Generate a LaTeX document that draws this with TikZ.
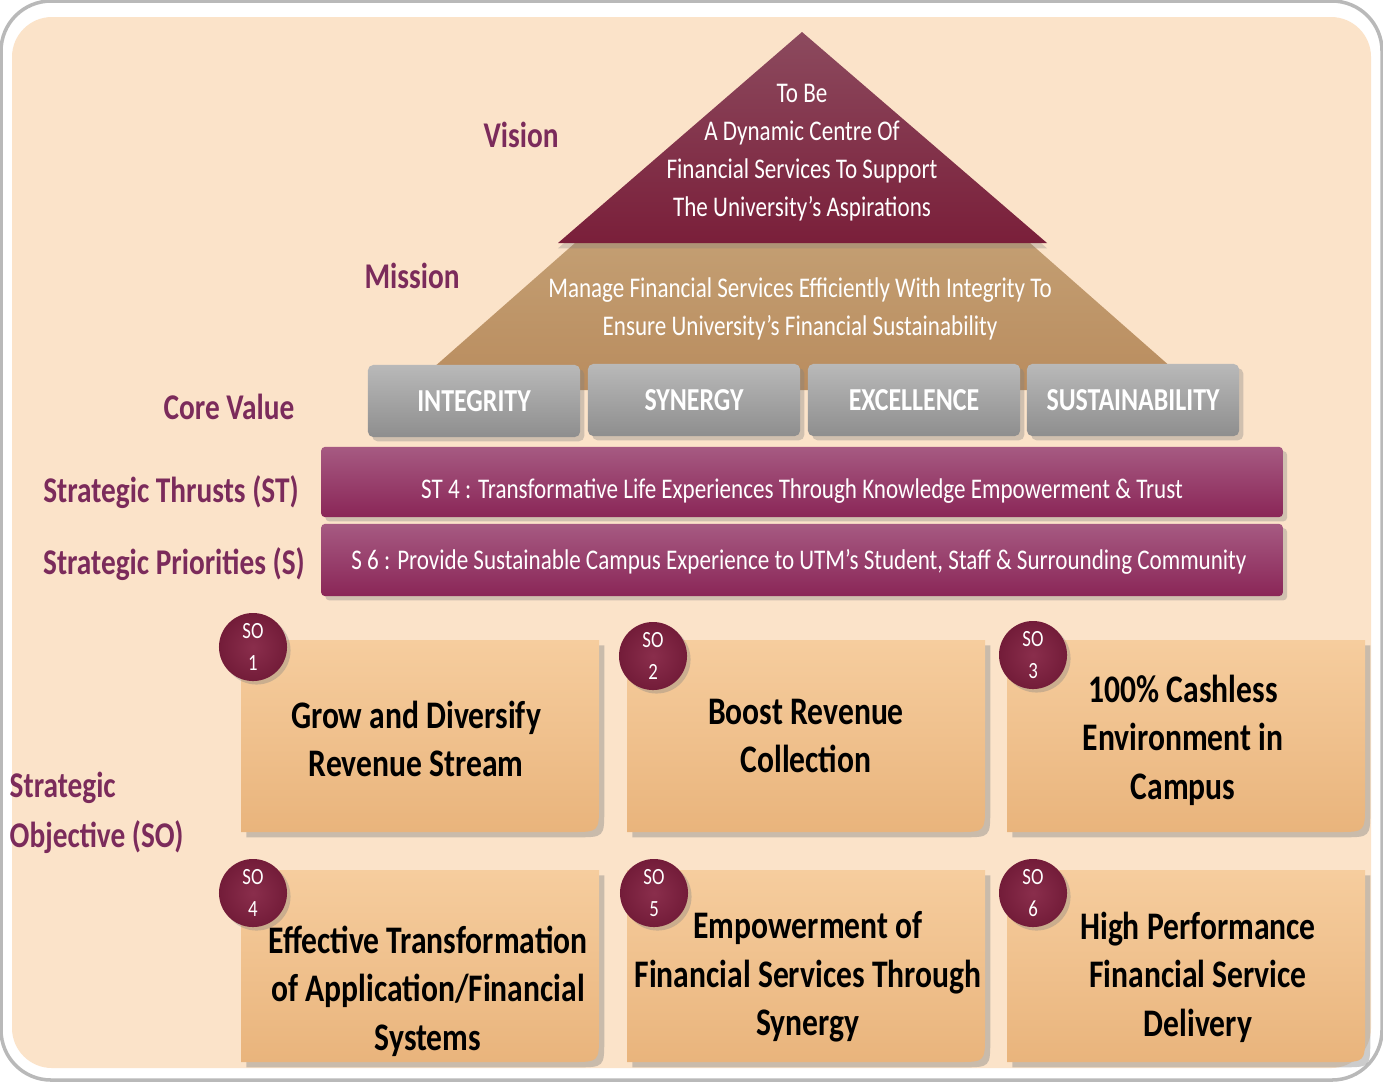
\documentclass[tikz,border=0pt]{standalone}
\usepackage{fontspec}
\setmainfont{Carlito}[FakeStretch=0.81]
\usetikzlibrary{shadows}
\definecolor{peach}{HTML}{FBE3C9}
\definecolor{visA}{HTML}{8C4A5E}
\definecolor{visB}{HTML}{7A1F3A}
\definecolor{tanA}{HTML}{C39E72}
\definecolor{tanB}{HTML}{B98C5E}
\definecolor{labc}{HTML}{7B2B5B}
\definecolor{barA}{HTML}{A65A82}
\definecolor{barB}{HTML}{8A2657}
\definecolor{grayA}{HTML}{B9B9B9}
\definecolor{grayB}{HTML}{8E8E8E}
\definecolor{soA}{HTML}{F6CD9E}
\definecolor{soB}{HTML}{E9B47C}
\definecolor{circA}{HTML}{8A2E4C}
\definecolor{circB}{HTML}{731C39}
\newcommand{\SOshape}[4]{\path[sobox] (#1,#2) -- (#3,#2) -- (#3,#4-28) .. controls (#3,#4) .. (#3-28,#4) -- (#1,#4) -- cycle;}
\begin{document}
\begin{tikzpicture}[x=0.01cm,y=-0.01cm,
  lab/.style={text=labc,font=\bfseries\fontsize{10.3}{14.2}\selectfont},
  wtext/.style={text=white,font=\fontsize{8.1}{10.8}\selectfont,align=center},
  cvbox/.style={rectangle,rounded corners=1.5pt,top color=grayA,bottom color=grayB,minimum width=2.12cm,minimum height=0.72cm,text=white,font=\bfseries\fontsize{9.1}{11}\selectfont,drop shadow={opacity=0.35,shadow xshift=1.2pt,shadow yshift=-1.2pt}},
  bar/.style={rectangle,rounded corners=1pt,top color=barA,bottom color=barB,minimum width=9.61cm,inner sep=0pt,drop shadow={opacity=0.35,shadow xshift=1.2pt,shadow yshift=-1.2pt}},
  sobox/.style={top color=soA,bottom color=soB,drop shadow={opacity=0.4,shadow xshift=1.5pt,shadow yshift=-1.5pt}},
  socirc/.style={circle,inner color=circA,outer color=circB,minimum size=0.68cm,inner sep=0pt,text=white,align=center,font=\fontsize{6.6}{9}\selectfont,drop shadow={opacity=0.35,shadow xshift=1pt,shadow yshift=-1pt}},
  sotext/.style={text=black,align=center,font=\bfseries\fontsize{11.1}{13.8}\selectfont}
]
\useasboundingbox (0,0) rectangle (1383,1081);
% frame
\draw[gray!55,line width=1pt,fill=white,rounded corners=0.5cm] (1,1) rectangle (1382,1080);
\fill[peach,rounded corners=0.4cm] (12,17) rectangle (1371,1068);
% mission trapezoid
\shade[top color=tanA,bottom color=tanB] (575,243) -- (1030,243) -- (1197,390) -- (408,390) -- cycle;
% vision triangle
\shade[top color=visA,bottom color=visB,drop shadow={opacity=0.3,shadow xshift=0pt,shadow yshift=-1.5pt}] (802,32) -- (1047,243) -- (558,243) -- cycle;
\node[wtext] (vistext) at (802,153) {To Be\\A Dynamic Centre Of\\Financial Services To Support\\The University’s Aspirations};
\node[wtext] (mistext) at (800,309) {Manage Financial Services Efficiently With Integrity To\\Ensure University’s Financial Sustainability};
% core values
\node[cvbox] (cv1) at (474,401) {INTEGRITY};
\node[cvbox] (cv2) at (694,400) {SYNERGY};
\node[cvbox] (cv3) at (914,400) {EXCELLENCE};
\node[cvbox] (cv4) at (1133,400) {SUSTAINABILITY};
% bars
\node[bar,minimum height=0.70cm] (stbar) at (802,482) {};
\node[wtext,anchor=base] (sttext) at (802,498) {ST 4 : Transformative Life Experiences Through Knowledge Empowerment \& Trust};
\node[bar,minimum height=0.72cm] (sbar) at (802,560) {};
\node[wtext,anchor=base] (stext) at (799,569) {S 6 : Provide Sustainable Campus Experience to UTM’s Student, Staff \& Surrounding Community};
% labels
\node[lab] (lvision) at (521,135) {Vision};
\node[lab] (lmission) at (412,276) {Mission};
\node[lab] (lcore) at (229,407) {Core Value};
\node[lab] (lst) at (171,492) {Strategic Thrusts (ST)};
\node[lab] (ls) at (174,564) {Strategic Priorities (S)};
\node[lab,align=left,anchor=west,inner sep=0pt] (lso) at (9,813) {Strategic\\Objective (SO)};
% SO boxes
\SOshape{241}{640}{599}{832}
\SOshape{627}{640}{985}{832}
\SOshape{1007}{640}{1365}{832}
\SOshape{241}{870}{599}{1062}
\SOshape{627}{870}{985}{1062}
\SOshape{1007}{870}{1365}{1062}
\node[sotext] (t1) at (416,739) {Grow and Diversify\\Revenue Stream};
\node[sotext] (t2) at (806,736) {Boost Revenue\\Collection};
\node[sotext] (t3) at (1183,740) {100\% Cashless\\Environment in\\Campus};
\node[sotext] (t4) at (428,991) {Effective Transformation\\of Application/Financial\\Systems};
\node[sotext] (t5) at (808,977) {Empowerment of\\Financial Services Through\\Synergy};
\node[sotext] (t6) at (1198,977) {High Performance\\Financial Service\\Delivery};
% circles
\node[socirc] (c1) at (253,647) {SO\\1};
\node[socirc] (c2) at (653,656) {SO\\2};
\node[socirc] (c3) at (1033,655) {SO\\3};
\node[socirc] (c4) at (253,893) {SO\\4};
\node[socirc] (c5) at (654,893) {SO\\5};
\node[socirc] (c6) at (1033,893) {SO\\6};
\end{tikzpicture}
\end{document}
